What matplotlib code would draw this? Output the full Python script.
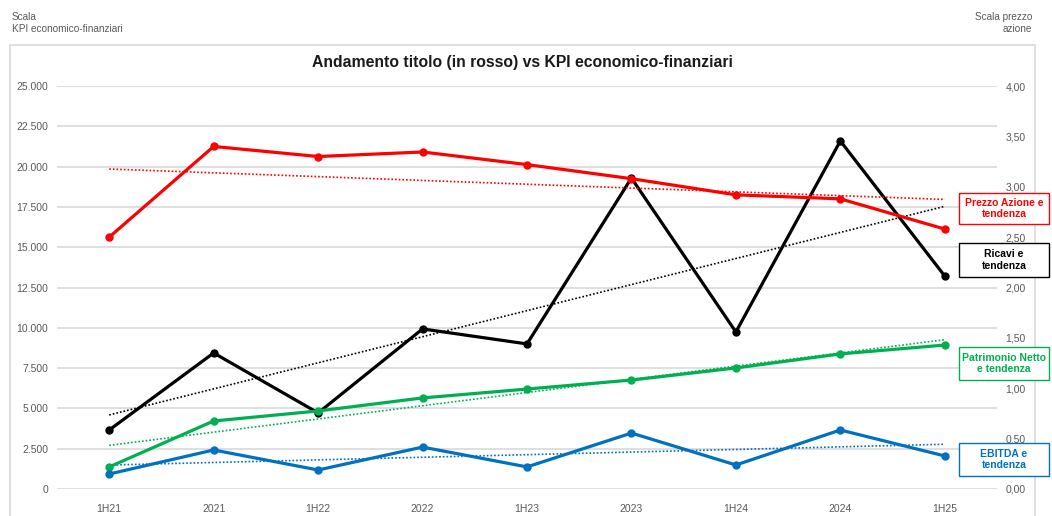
import numpy as np
import matplotlib
matplotlib.use("Agg")
import matplotlib.pyplot as plt
from matplotlib.patches import Rectangle
from matplotlib.ticker import FuncFormatter, MultipleLocator

plt.rcParams['font.family'] = ['Liberation Sans', 'DejaVu Sans']

# data
periods = ["1H21", "2021", "1H22", "2022", "1H23", "2023", "1H24", "2024", "1H25"]
ricavi = [3660, 8440, 4720, 9930, 9000, 19290, 9740, 21590, 13210]
patrimonio = [1370, 4220, 4840, 5650, 6200, 6760, 7510, 8380, 8930]
ebitda = [930, 2420, 1180, 2600, 1370, 3470, 1490, 3660, 2050]
prezzo = [2.50, 3.40, 3.30, 3.345, 3.22, 3.08, 2.92, 2.88, 2.58]

W, H = 1052, 516
fig = plt.figure(figsize=(W / 100, H / 100), dpi=100)

def fx(px):
    return px / W

def fy(py):
    return 1 - py / H

# outer chart frame
fig.patches.append(Rectangle((fx(10), fy(530)), fx(1035) - fx(10), fy(45) - fy(530),
                             transform=fig.transFigure, fill=False,
                             edgecolor="#d9d9d9", lw=1.2))

ax = fig.add_axes([fx(57), fy(489), fx(997) - fx(57), fy(86) - fy(489)])
ax2 = ax.twinx()

x = np.arange(len(periods))
grid_c = "#d9d9d9"
text_c = "#595959"

def trend(ax_, vals, color):
    # linear trend line, like Excel's
    k, b = np.polyfit(x, vals, 1)
    ax_.plot(x, k * x + b, linestyle=(0, (1, 1.2)), color=color, lw=1.2, zorder=2)

series = [
    (ricavi, "#000000"),
    (patrimonio, "#00b050"),
    (ebitda, "#0070c0"),
]
for vals, col in series:
    trend(ax, vals, col)
for vals, col in series:
    ax.plot(x, vals, color=col, lw=2.3, marker="o", markersize=5, zorder=3)

trend(ax2, prezzo, "#ff0000")
ax2.plot(x, prezzo, color="#ff0000", lw=2.3, marker="o", markersize=5, zorder=3)

ax.set_xlim(-0.5, len(periods) - 0.5)
ax.set_ylim(0, 25000)
ax2.set_ylim(0, 4)
ax.yaxis.set_major_locator(MultipleLocator(2500))
ax2.yaxis.set_major_locator(MultipleLocator(0.5))
ax.yaxis.set_major_formatter(FuncFormatter(lambda v, p: f"{v:,.0f}".replace(",", ".")))
ax2.yaxis.set_major_formatter(FuncFormatter(lambda v, p: f"{v:.2f}".replace(".", ",")))
ax.set_xticks(x)
ax.set_xticklabels(periods)

ax.grid(axis="y", color=grid_c, lw=1.2)
ax.set_axisbelow(True)
for a in (ax, ax2):
    for s in a.spines.values():
        s.set_visible(False)
ax.tick_params(axis="both", length=0, labelsize=7.5, labelcolor=text_c)
ax.tick_params(axis="y", pad=6.5)
ax.tick_params(axis="x", pad=11)
ax2.tick_params(axis="y", length=0, labelsize=7.5, labelcolor=text_c, pad=6)
ax.patch.set_visible(False)

fig.text(fx(522), fy(63), "Andamento titolo (in rosso) vs KPI economico-finanziari",
         ha="center", va="center", fontsize=11.3, fontweight="bold", color="#1a1a1a")
fig.text(fx(12), fy(23), "Scala\nKPI economico-finanziari", ha="left", va="center",
         fontsize=7.2, color=text_c, linespacing=1.25)
fig.text(fx(1032), fy(23), "Scala prezzo\nazione", ha="right", va="center",
         fontsize=7.2, color=text_c, linespacing=1.25, multialignment="right")

# label boxes on the right
boxes = [
    ("Prezzo Azione e\ntendenza", "#ff0000", 193, 224),
    ("Ricavi e\ntendenza", "#000000", 243, 277),
    ("Patrimonio Netto\ne tendenza", "#00b050", 347, 380),
    ("EBITDA e\ntendenza", "#0070c0", 443, 476),
]
for label, col, top, bot in boxes:
    fig.patches.append(Rectangle((fx(959), fy(bot)), fx(1049) - fx(959), fy(top) - fy(bot),
                                 transform=fig.transFigure, facecolor="white",
                                 edgecolor=col, lw=1.0, zorder=5))
    fig.text(fx(1004), fy((top + bot) / 2), label, ha="center", va="center",
             fontsize=7.5, fontweight="bold", color=col, linespacing=1.2, zorder=6)

fig.savefig("out.png", dpi=100, facecolor="white")
